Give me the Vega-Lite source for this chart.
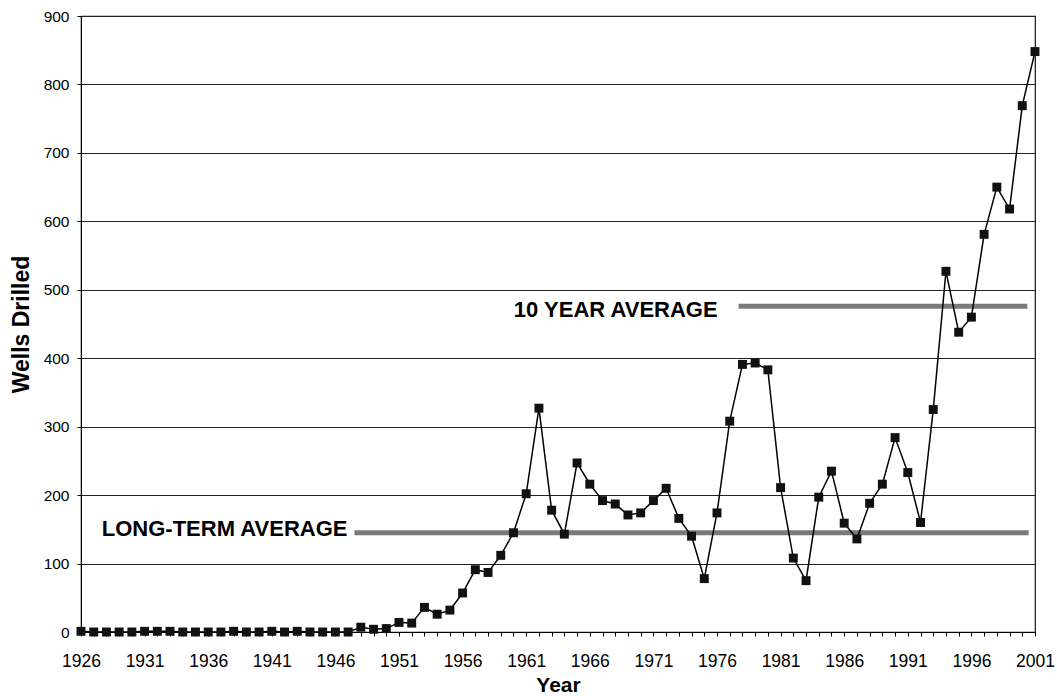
{
  "$schema": "https://vega.github.io/schema/vega-lite/v6.json",
  "autosize": {"type": "none"},
  "padding": {"left": 81, "top": 16, "right": 22, "bottom": 64},
  "width": 954,
  "height": 616,
  "background": "white",
  "config": {
    "font": "Liberation Sans",
    "view": {"stroke": "#111", "strokeWidth": 1.2},
    "axis": {"labelColor": "#000", "titleColor": "#000", "labelFont": "Liberation Sans", "titleFont": "Liberation Sans"}
  },
  "datasets": {
    "wells": [
      {"year": 1926, "wells": 1}, {"year": 1927, "wells": 0}, {"year": 1928, "wells": 0}, {"year": 1929, "wells": 0},
      {"year": 1930, "wells": 0}, {"year": 1931, "wells": 1}, {"year": 1932, "wells": 1}, {"year": 1933, "wells": 1},
      {"year": 1934, "wells": 0}, {"year": 1935, "wells": 0}, {"year": 1936, "wells": 0}, {"year": 1937, "wells": 0},
      {"year": 1938, "wells": 1}, {"year": 1939, "wells": 0}, {"year": 1940, "wells": 0}, {"year": 1941, "wells": 1},
      {"year": 1942, "wells": 0}, {"year": 1943, "wells": 1}, {"year": 1944, "wells": 0}, {"year": 1945, "wells": 0},
      {"year": 1946, "wells": 0}, {"year": 1947, "wells": 0}, {"year": 1948, "wells": 7}, {"year": 1949, "wells": 4},
      {"year": 1950, "wells": 5}, {"year": 1951, "wells": 14}, {"year": 1952, "wells": 13}, {"year": 1953, "wells": 36},
      {"year": 1954, "wells": 26}, {"year": 1955, "wells": 32}, {"year": 1956, "wells": 57}, {"year": 1957, "wells": 91},
      {"year": 1958, "wells": 87}, {"year": 1959, "wells": 112}, {"year": 1960, "wells": 145}, {"year": 1961, "wells": 202},
      {"year": 1962, "wells": 327}, {"year": 1963, "wells": 178}, {"year": 1964, "wells": 143}, {"year": 1965, "wells": 247},
      {"year": 1966, "wells": 216}, {"year": 1967, "wells": 192}, {"year": 1968, "wells": 187}, {"year": 1969, "wells": 171},
      {"year": 1970, "wells": 174}, {"year": 1971, "wells": 192}, {"year": 1972, "wells": 210}, {"year": 1973, "wells": 166},
      {"year": 1974, "wells": 140}, {"year": 1975, "wells": 78}, {"year": 1976, "wells": 174}, {"year": 1977, "wells": 308},
      {"year": 1978, "wells": 391}, {"year": 1979, "wells": 393}, {"year": 1980, "wells": 383}, {"year": 1981, "wells": 211},
      {"year": 1982, "wells": 108}, {"year": 1983, "wells": 75}, {"year": 1984, "wells": 197}, {"year": 1985, "wells": 235},
      {"year": 1986, "wells": 159}, {"year": 1987, "wells": 136}, {"year": 1988, "wells": 188}, {"year": 1989, "wells": 216},
      {"year": 1990, "wells": 284}, {"year": 1991, "wells": 233}, {"year": 1992, "wells": 160}, {"year": 1993, "wells": 325},
      {"year": 1994, "wells": 527}, {"year": 1995, "wells": 438}, {"year": 1996, "wells": 460}, {"year": 1997, "wells": 581},
      {"year": 1998, "wells": 650}, {"year": 1999, "wells": 618}, {"year": 2000, "wells": 769}, {"year": 2001, "wells": 848}
    ],
    "averages": [
      {"name": "LONG-TERM AVERAGE", "year": 1947.5, "end": 2000.5, "wells": 145},
      {"name": "10 YEAR AVERAGE", "year": 1977.7, "end": 2000.4, "wells": 476}
    ]
  },
  "encoding": {
    "x": {"field": "year", "type": "quantitative",
      "scale": {"domain": [1926, 2001], "nice": false, "zero": false},
      "axis": {
        "title": "Year", "titleFontSize": 21, "titleFontWeight": "bold", "titlePadding": 5,
        "values": [1926,1927,1928,1929,1930,1931,1932,1933,1934,1935,1936,1937,1938,1939,1940,1941,1942,1943,1944,1945,1946,1947,1948,1949,1950,1951,1952,1953,1954,1955,1956,1957,1958,1959,1960,1961,1962,1963,1964,1965,1966,1967,1968,1969,1970,1971,1972,1973,1974,1975,1976,1977,1978,1979,1980,1981,1982,1983,1984,1985,1986,1987,1988,1989,1990,1991,1992,1993,1994,1995,1996,1997,1998,1999,2000,2001],
        "labelExpr": "(datum.value - 1926) % 5 == 0 ? datum.value : ''",
        "labelOverlap": false, "labelFontSize": 17.5, "labelPadding": 16,
        "tickSize": 4, "tickColor": "#000", "domainColor": "#000", "grid": false, "labelBound": false, "labelFlush": false
      }
    },
    "y": {"field": "wells", "type": "quantitative",
      "scale": {"domain": [0, 900], "nice": false},
      "axis": {
        "title": "Wells Drilled", "titleFontSize": 23, "titleFontWeight": "bold", "titlePadding": 10,
        "values": [0,100,200,300,400,500,600,700,800,900],
        "labelFontSize": 15.5, "labelPadding": 8, "tickSize": 4, "tickColor": "#000",
        "domainColor": "#000", "grid": true, "gridColor": "#222", "gridWidth": 1.2, "gridOpacity": 1
      }
    }
  },
  "layer": [
    {
      "data": {"name": "averages"},
      "mark": {"type": "rule", "strokeWidth": 5, "color": "#7a7a7a"},
      "encoding": {
        "x2": {"field": "end"}
      }
    },
    {
      "data": {"name": "averages"},
      "transform": [{"filter": "datum.name == 'LONG-TERM AVERAGE'"}],
      "mark": {"type": "text", "align": "right", "baseline": "middle", "dx": -7, "dy": -4, "fontSize": 22, "fontWeight": "bold", "color": "#000"},
      "encoding": {
        "text": {"field": "name"}
      }
    },
    {
      "data": {"name": "averages"},
      "transform": [{"filter": "datum.name == '10 YEAR AVERAGE'"}],
      "mark": {"type": "text", "align": "right", "baseline": "middle", "dx": -21, "dy": 4, "fontSize": 22, "fontWeight": "bold", "color": "#000"},
      "encoding": {
        "text": {"field": "name"}
      }
    },
    {
      "data": {"name": "wells"},
      "mark": {"type": "line", "color": "#000", "strokeWidth": 1.5},
      "encoding": {}
    },
    {
      "data": {"name": "wells"},
      "mark": {"type": "point", "shape": "square", "filled": true, "size": 80, "color": "#111", "opacity": 1},
      "encoding": {}
    }
  ]
}
